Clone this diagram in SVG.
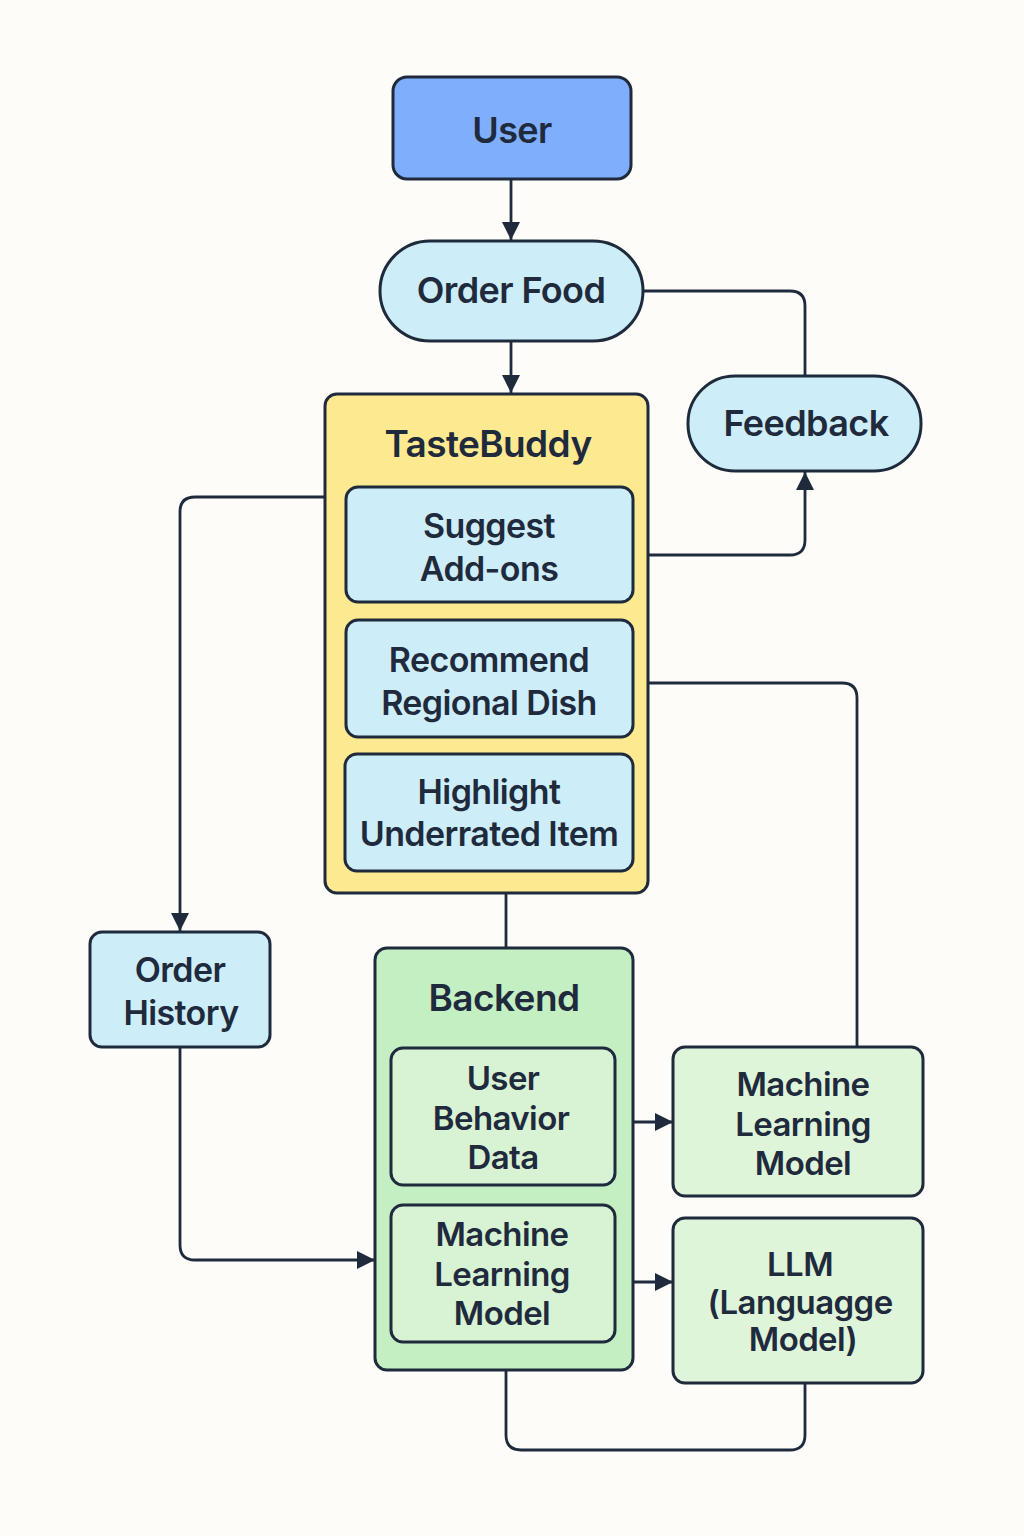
<svg xmlns="http://www.w3.org/2000/svg" width="1024" height="1536" viewBox="0 0 1024 1536">
<defs>
<style>
.n{stroke:#1f2b3d;stroke-width:3}
.t{font-family:Inter,"Noto Sans","Liberation Sans",sans-serif;font-weight:600;fill:#1f2b3d;text-anchor:middle;letter-spacing:-0.6px}
.c{fill:none;stroke:#1f2b3d;stroke-width:2.8}
.blue{fill:#7eaefc}
.cyan{fill:#cdeef8}
.yellow{fill:#fde98f}
.green{fill:#c3efc3}
.lgreen{fill:#d8f3d4}
.pgreen{fill:#dff5da}
</style>
<marker id="a" viewBox="0 0 12 12" refX="12" refY="6" markerWidth="18" markerHeight="18" markerUnits="userSpaceOnUse" orient="auto">
<path d="M0,0 L12,6 L0,12 z" fill="#1f2b3d"/>
</marker>
</defs>
<rect width="1024" height="1536" fill="#fdfcf8"/>

<g id="connectors">
<path class="c" d="M511,180 V240" marker-end="url(#a)"/>
<path class="c" d="M511,342 V393" marker-end="url(#a)"/>
<path class="c" d="M643,291 H790 Q805,291 805,306 V376"/>
<path class="c" d="M648,555 H790 Q805,555 805,540 V472" marker-end="url(#a)"/>
<path class="c" d="M648,683 H842 Q857,683 857,698 V1047"/>
<path class="c" d="M325,497 H195 Q180,497 180,512 V931" marker-end="url(#a)"/>
<path class="c" d="M180,1047 V1245 Q180,1260 195,1260 H375" marker-end="url(#a)"/>
<path class="c" d="M506,894 V948"/>
<path class="c" d="M633,1122 H673" marker-end="url(#a)"/>
<path class="c" d="M633,1282 H673" marker-end="url(#a)"/>
<path class="c" d="M506,1370 V1435 Q506,1450 521,1450 H790 Q805,1450 805,1435 V1384"/>
</g>

<g id="user">
<rect class="n blue" x="393" y="77" width="238" height="102" rx="14"/>
<text class="t" x="512" y="143" font-size="36">User</text>
</g>

<g id="order-food">
<rect class="n cyan" x="380" y="241" width="263" height="100" rx="50"/>
<text class="t" x="511" y="303" font-size="36">Order Food</text>
</g>

<g id="feedback">
<rect class="n cyan" x="688" y="376" width="233" height="95" rx="47"/>
<text class="t" x="806" y="436" font-size="36">Feedback</text>
</g>

<g id="tastebuddy">
<rect class="n yellow" x="325" y="394" width="323" height="499" rx="12"/>
<text class="t" x="488" y="457" font-size="37" font-weight="700">TasteBuddy</text>
</g>

<g id="suggest-addons">
<rect class="n cyan" x="346" y="487" width="287" height="115" rx="12"/>
<text class="t" x="489" y="538" font-size="34">Suggest</text>
<text class="t" x="489" y="581" font-size="34">Add-ons</text>
</g>

<g id="recommend-regional-dish">
<rect class="n cyan" x="346" y="620" width="287" height="117" rx="12"/>
<text class="t" x="489" y="672" font-size="34">Recommend</text>
<text class="t" x="489" y="715" font-size="34">Regional Dish</text>
</g>

<g id="highlight-underrated-item">
<rect class="n cyan" x="345" y="754" width="288" height="117" rx="12"/>
<text class="t" x="489" y="804" font-size="34">Highlight</text>
<text class="t" x="489" y="846" font-size="34">Underrated Item</text>
</g>

<g id="order-history">
<rect class="n cyan" x="90" y="932" width="180" height="115" rx="12"/>
<text class="t" x="180" y="982" font-size="34">Order</text>
<text class="t" x="181" y="1025" font-size="34">History</text>
</g>

<g id="backend">
<rect class="n green" x="375" y="948" width="258" height="422" rx="12"/>
<text class="t" x="504" y="1011" font-size="37" font-weight="700">Backend</text>
</g>

<g id="user-behavior-data">
<rect class="n lgreen" x="391" y="1048" width="224" height="137" rx="12"/>
<text class="t" x="503" y="1090" font-size="33">User</text>
<text class="t" x="501" y="1130" font-size="33">Behavior</text>
<text class="t" x="503" y="1169" font-size="33">Data</text>
</g>

<g id="ml-model-inner">
<rect class="n lgreen" x="391" y="1205" width="224" height="137" rx="12"/>
<text class="t" x="502" y="1246" font-size="33">Machine</text>
<text class="t" x="502" y="1286" font-size="33">Learning</text>
<text class="t" x="502" y="1325" font-size="33">Model</text>
</g>

<g id="ml-model">
<rect class="n pgreen" x="673" y="1047" width="250" height="149" rx="12"/>
<text class="t" x="803" y="1096" font-size="33">Machine</text>
<text class="t" x="803" y="1136" font-size="33">Learning</text>
<text class="t" x="803" y="1175" font-size="33">Model</text>
</g>

<g id="llm">
<rect class="n pgreen" x="673" y="1218" width="250" height="165" rx="12"/>
<text class="t" x="800" y="1276" font-size="33">LLM</text>
<text class="t" x="800" y="1314" font-size="33">(Languagge</text>
<text class="t" x="803" y="1351" font-size="33">Model)</text>
</g>
</svg>
